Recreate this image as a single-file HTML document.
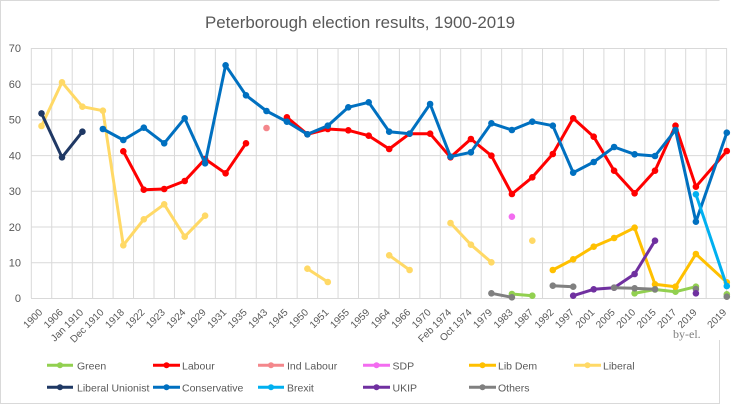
<!DOCTYPE html>
<html><head><meta charset="utf-8"><style>
html,body{margin:0;padding:0;background:#fff;}
svg{display:block;font-family:"Liberation Sans",Arial,sans-serif;}
</style></head><body>
<svg width="740" height="405" viewBox="0 0 740 405" xmlns="http://www.w3.org/2000/svg">
<defs>
<marker id="mGr" viewBox="-4 -4 8 8" markerWidth="8" markerHeight="8" markerUnits="userSpaceOnUse"><circle r="3.3" fill="#92D050"/></marker>
<marker id="mLa" viewBox="-4 -4 8 8" markerWidth="8" markerHeight="8" markerUnits="userSpaceOnUse"><circle r="3.3" fill="#FF0000"/></marker>
<marker id="mLD" viewBox="-4 -4 8 8" markerWidth="8" markerHeight="8" markerUnits="userSpaceOnUse"><circle r="3.3" fill="#FFC000"/></marker>
<marker id="mLi" viewBox="-4 -4 8 8" markerWidth="8" markerHeight="8" markerUnits="userSpaceOnUse"><circle r="3.3" fill="#FFD966"/></marker>
<marker id="mLU" viewBox="-4 -4 8 8" markerWidth="8" markerHeight="8" markerUnits="userSpaceOnUse"><circle r="3.3" fill="#1F3864"/></marker>
<marker id="mCo" viewBox="-4 -4 8 8" markerWidth="8" markerHeight="8" markerUnits="userSpaceOnUse"><circle r="3.3" fill="#0070C0"/></marker>
<marker id="mBr" viewBox="-4 -4 8 8" markerWidth="8" markerHeight="8" markerUnits="userSpaceOnUse"><circle r="3.3" fill="#00B0F0"/></marker>
<marker id="mUK" viewBox="-4 -4 8 8" markerWidth="8" markerHeight="8" markerUnits="userSpaceOnUse"><circle r="3.3" fill="#7030A0"/></marker>
<marker id="mOt" viewBox="-4 -4 8 8" markerWidth="8" markerHeight="8" markerUnits="userSpaceOnUse"><circle r="3.3" fill="#808080"/></marker>
</defs>

<!-- outer border -->
<path d="M0.5 404 V0.5 H719.5 M0.5 403.5 H719.5 V340" fill="none" stroke="#d9d9d9" stroke-width="1"/>

<!-- title -->
<text x="360" y="28" font-size="17" fill="#595959" text-anchor="middle" textLength="310" lengthAdjust="spacingAndGlyphs">Peterborough election results, 1900-2019</text>

<!-- horizontal gridlines -->
<g stroke="#d9d9d9" stroke-width="1">
<path d="M31 48.5 H727 M31 84.2 H727 M31 119.9 H727 M31 155.6 H727 M31 191.3 H727 M31 227 H727 M31 262.7 H727 M31 298.5 H727"/>
<path d="M31.3 48 V298 M51.75 48 V298 M72.2 48 V298 M92.65 48 V298 M113.1 48 V298 M133.55 48 V298 M154 48 V298 M174.45 48 V298 M194.9 48 V298 M215.35 48 V298 M235.8 48 V298 M256.25 48 V298 M276.7 48 V298 M297.15 48 V298 M317.6 48 V298 M338.05 48 V298 M358.5 48 V298 M378.95 48 V298 M399.4 48 V298 M419.85 48 V298 M440.3 48 V298 M460.75 48 V298 M481.2 48 V298 M501.65 48 V298 M522.1 48 V298 M542.55 48 V298 M563 48 V298 M583.45 48 V298 M603.9 48 V298 M624.35 48 V298 M644.8 48 V298 M665.25 48 V298 M685.7 48 V298 M706.15 48 V298 M726.6 48 V298"/>
</g>

<!-- y labels -->
<g font-size="11" fill="#595959" text-anchor="end">
<text x="21" y="52">70</text>
<text x="21" y="88">60</text>
<text x="21" y="123.5">50</text>
<text x="21" y="159.5">40</text>
<text x="21" y="195">30</text>
<text x="21" y="231">20</text>
<text x="21" y="266.5">10</text>
<text x="21" y="302">0</text>
</g>

<!-- x labels -->
<g font-size="10" fill="#595959" text-anchor="end">
<text transform="translate(43,313) rotate(-45)">1900</text>
<text transform="translate(63.5,313) rotate(-45)">1906</text>
<text transform="translate(83.9,313) rotate(-45)">Jan 1910</text>
<text transform="translate(104.4,313) rotate(-45)">Dec 1910</text>
<text transform="translate(124.8,313) rotate(-45)">1918</text>
<text transform="translate(145.3,313) rotate(-45)">1922</text>
<text transform="translate(165.7,313) rotate(-45)">1923</text>
<text transform="translate(186.2,313) rotate(-45)">1924</text>
<text transform="translate(206.6,313) rotate(-45)">1929</text>
<text transform="translate(227.1,313) rotate(-45)">1931</text>
<text transform="translate(247.5,313) rotate(-45)">1935</text>
<text transform="translate(268,313) rotate(-45)">1943</text>
<text transform="translate(288.4,313) rotate(-45)">1945</text>
<text transform="translate(308.9,313) rotate(-45)">1950</text>
<text transform="translate(329.3,313) rotate(-45)">1951</text>
<text transform="translate(349.8,313) rotate(-45)">1955</text>
<text transform="translate(370.2,313) rotate(-45)">1959</text>
<text transform="translate(390.7,313) rotate(-45)">1964</text>
<text transform="translate(411.1,313) rotate(-45)">1966</text>
<text transform="translate(431.6,313) rotate(-45)">1970</text>
<text transform="translate(452,313) rotate(-45)">Feb 1974</text>
<text transform="translate(472.4,313) rotate(-45)">Oct 1974</text>
<text transform="translate(492.9,313) rotate(-45)">1979</text>
<text transform="translate(513.4,313) rotate(-45)">1983</text>
<text transform="translate(533.8,313) rotate(-45)">1987</text>
<text transform="translate(554.3,313) rotate(-45)">1992</text>
<text transform="translate(574.7,313) rotate(-45)">1997</text>
<text transform="translate(595.2,313) rotate(-45)">2001</text>
<text transform="translate(615.6,313) rotate(-45)">2005</text>
<text transform="translate(636.1,313) rotate(-45)">2010</text>
<text transform="translate(656.5,313) rotate(-45)">2015</text>
<text transform="translate(677,313) rotate(-45)">2017</text>
<text transform="translate(697.4,313) rotate(-45)">2019</text>
<text transform="translate(727,313) rotate(-45)">2019</text>
</g>

<text x="673" y="338" font-family="Liberation Serif, serif" font-size="12" fill="#7f7f7f">by-el.</text>

<!-- series -->
<g fill="none" stroke-width="3" stroke-linejoin="round" stroke-linecap="round">
<!-- Green -->
<g stroke="#92D050" marker-start="url(#mGr)" marker-mid="url(#mGr)" marker-end="url(#mGr)">
<polyline points="511.9,294 532.3,295.7"/>
<polyline points="634.6,293.3 655,289.5 675.5,291.7 695.9,286.7"/>
</g>
<circle cx="726.8" cy="294.3" r="3.3" fill="#92D050" stroke="none"/>

<!-- Labour -->
<g stroke="#FF0000" marker-start="url(#mLa)" marker-mid="url(#mLa)" marker-end="url(#mLa)">
<polyline points="123.3,151.3 143.8,189.7 164.2,189 184.7,181 205.1,159 225.6,173.3 246,143.3"/>
<polyline points="286.9,117.3 307.4,134.3 327.8,129 348.3,130.3 368.7,135.7 389.2,149 409.6,133.7 430.1,133.7 450.5,157.3 470.9,139 491.4,155.7 511.9,194 532.3,177.3 552.8,154 573.2,118.3 593.7,136.7 614.1,170.7 634.6,193.3 655,170.7 675.5,125.7 695.9,186.7 726.8,151"/>
</g>

<!-- Ind Labour -->
<circle cx="266.5" cy="128" r="3.3" fill="#F4878C" stroke="none"/>
<!-- SDP -->
<circle cx="511.9" cy="216.7" r="3.3" fill="#F36CF0" stroke="none"/>

<!-- Lib Dem -->
<polyline stroke="#FFC000" marker-start="url(#mLD)" marker-mid="url(#mLD)" marker-end="url(#mLD)" points="552.8,270 573.2,259.3 593.7,246.7 614.1,238 634.6,227.7 655,284.3 675.5,286.7 695.9,254 726.8,282.3"/>

<!-- Liberal -->
<g stroke="#FFD966" marker-start="url(#mLi)" marker-mid="url(#mLi)" marker-end="url(#mLi)">
<polyline points="41.5,126 62,82.3 82.4,106.7 102.9,110.7 123.3,245.3 143.8,219.3 164.2,204.3 184.7,236.7 205.1,215.7"/>
<polyline points="307.4,268.7 327.8,282"/>
<polyline points="389.2,255.3 409.6,270"/>
<polyline points="450.5,223 470.9,244.7 491.4,262.3"/>
</g>
<circle cx="532.3" cy="240.7" r="3.3" fill="#FFD966" stroke="none"/>

<!-- Liberal Unionist -->
<polyline stroke="#1F3864" marker-start="url(#mLU)" marker-mid="url(#mLU)" marker-end="url(#mLU)" points="41.5,113.4 62,157.3 82.4,131.7"/>

<!-- Conservative -->
<polyline stroke="#0070C0" marker-start="url(#mCo)" marker-mid="url(#mCo)" marker-end="url(#mCo)" points="102.9,129 123.3,140 143.8,127.7 164.2,143.3 184.7,118.3 205.1,163.3 225.6,65.3 246,95.3 266.5,111 286.9,121.7 307.4,134.3 327.8,125.7 348.3,107.3 368.7,102.3 389.2,131.7 409.6,133.7 430.1,104 450.5,156.7 470.9,152.3 491.4,123.3 511.9,130 532.3,121.7 552.8,125.7 573.2,172.7 593.7,162 614.1,147 634.6,154.3 655,156 675.5,130 695.9,221.7 726.8,132.7"/>

<!-- Brexit -->
<polyline stroke="#00B0F0" marker-start="url(#mBr)" marker-end="url(#mBr)" points="695.9,194.3 726.8,286"/>

<!-- UKIP -->
<polyline stroke="#7030A0" marker-start="url(#mUK)" marker-mid="url(#mUK)" marker-end="url(#mUK)" points="573.2,295.7 593.7,289.3 614.1,287.7 634.6,274 655,240.7"/>

<!-- Others -->
<g stroke="#808080" marker-start="url(#mOt)" marker-mid="url(#mOt)" marker-end="url(#mOt)">
<polyline points="491.4,293.3 511.9,297.3"/>
<polyline points="552.8,285.7 573.2,286.7"/>
<polyline points="614.1,287.7 634.6,288.3 655,289.3"/>
</g>
<circle cx="695.9" cy="289" r="3.3" fill="#808080" stroke="none"/>
<circle cx="695.9" cy="293.3" r="3.3" fill="#7030A0" stroke="none"/>
<circle cx="726.8" cy="296.7" r="3.3" fill="#808080" stroke="none"/>
</g>

<!-- legend -->
<g stroke-width="3" font-size="10.5" fill="#595959">
<line x1="47" y1="365.3" x2="73" y2="365.3" stroke="#92D050"/><circle cx="60" cy="365.3" r="3" fill="#92D050"/>
<text x="77" y="369.3">Green</text>
<line x1="153" y1="365.3" x2="180" y2="365.3" stroke="#FF0000"/><circle cx="166.5" cy="365.3" r="3" fill="#FF0000"/>
<text x="182" y="369.3">Labour</text>
<line x1="258" y1="365.3" x2="284" y2="365.3" stroke="#F4878C"/><circle cx="271" cy="365.3" r="3" fill="#F4878C"/>
<text x="287" y="369.3">Ind Labour</text>
<line x1="363" y1="365.3" x2="390" y2="365.3" stroke="#F36CF0"/><circle cx="376.5" cy="365.3" r="3" fill="#F36CF0"/>
<text x="392.5" y="369.3">SDP</text>
<line x1="469" y1="365.3" x2="496" y2="365.3" stroke="#FFC000"/><circle cx="482.5" cy="365.3" r="3" fill="#FFC000"/>
<text x="498" y="369.3">Lib Dem</text>
<line x1="574" y1="365.3" x2="601" y2="365.3" stroke="#FFD966"/><circle cx="587.5" cy="365.3" r="3" fill="#FFD966"/>
<text x="603" y="369.3">Liberal</text>

<line x1="47" y1="387.3" x2="73" y2="387.3" stroke="#1F3864"/><circle cx="60" cy="387.3" r="3" fill="#1F3864"/>
<text x="77" y="391.3">Liberal Unionist</text>
<line x1="153" y1="387.3" x2="180" y2="387.3" stroke="#0070C0"/><circle cx="166.5" cy="387.3" r="3" fill="#0070C0"/>
<text x="182" y="391.3">Conservative</text>
<line x1="258" y1="387.3" x2="284" y2="387.3" stroke="#00B0F0"/><circle cx="271" cy="387.3" r="3" fill="#00B0F0"/>
<text x="287" y="391.3">Brexit</text>
<line x1="363" y1="387.3" x2="390" y2="387.3" stroke="#7030A0"/><circle cx="376.5" cy="387.3" r="3" fill="#7030A0"/>
<text x="392.5" y="391.3">UKIP</text>
<line x1="469" y1="387.3" x2="496" y2="387.3" stroke="#808080"/><circle cx="482.5" cy="387.3" r="3" fill="#808080"/>
<text x="498" y="391.3">Others</text>
</g>
</svg>
</body></html>
